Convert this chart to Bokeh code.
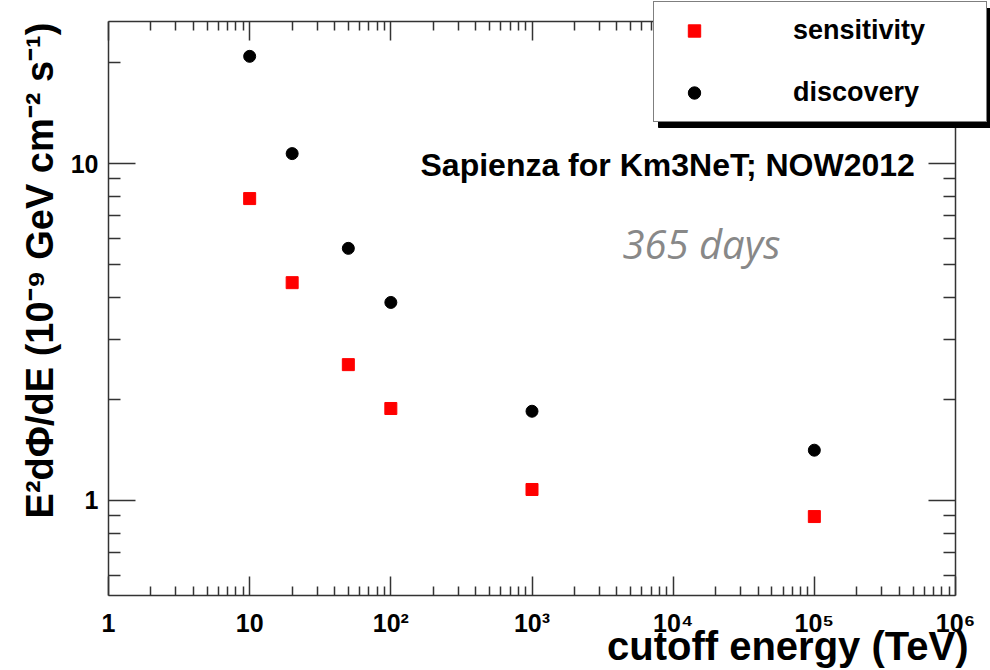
import math
from bokeh.plotting import figure
from bokeh.models import (LogAxis, FixedTicker, Label, Legend, LegendItem,
                          ColumnDataSource, BoxAnnotation)
from bokeh.embed import file_html
from bokeh.resources import INLINE

# ---- data ----
cutoff_energy_tev = [10, 20, 50, 100, 1000, 100000]
sensitivity = [7.87, 4.43, 2.53, 1.875, 1.078, 0.896]
discovery = [20.8, 10.7, 5.6, 3.87, 1.84, 1.41]

x_major_ticks = [1, 10, 100, 1000, 10000, 100000, 1000000]
x_tick_labels = ["1", "10", "10²", "10³", "10⁴", "10⁵", "10⁶"]
y_major_ticks = [1, 10]
y_tick_labels = ["1", "10"]
x_minor_ticks = [m * 10 ** k for k in range(0, 6) for m in range(2, 10)]
y_minor_ticks = [0.6, 0.7, 0.8, 0.9, 2, 3, 4, 5, 6, 7, 8, 9, 20]

x_axis_span = (1, 1e6)          # drawn extent of the x axis
y_axis_span = (0.5224, 26.39)   # drawn extent of the y axis

x_title = "cutoff energy (TeV)"
y_title = "E²dΦ/dE (10⁻⁹ GeV cm⁻² s⁻¹)"
credit_text = "Sapienza for Km3NeT; NOW2012"
exposure_text = "365 days"
series_names = ["sensitivity", "discovery"]

FONT = "Liberation Sans"
AXIS_COLOR = "#333333"
W, H = 990, 670

# pixel box of the drawn axes inside the canvas (left, right, top, bottom)
BOX_L, BOX_R, BOX_T, BOX_B = 108, 955, 21, 595

# extend the ranges so that the whole canvas is the data frame
lx0, lx1 = math.log10(x_axis_span[0]), math.log10(x_axis_span[1])
ppx = (BOX_R - BOX_L) / (lx1 - lx0)
ly0, ly1 = math.log10(y_axis_span[0]), math.log10(y_axis_span[1])
ppy = (BOX_B - BOX_T) / (ly1 - ly0)
x_range = (10 ** (lx0 - BOX_L / ppx), 10 ** (lx1 + (W - BOX_R) / ppx))
y_range = (10 ** (ly0 - (H - BOX_B) / ppy), 10 ** (ly1 + BOX_T / ppy))

p = figure(width=W, height=H, x_axis_type="log", y_axis_type="log",
           x_range=x_range, y_range=y_range,
           output_backend="svg", toolbar_location=None,
           min_border=0, min_border_left=0, min_border_right=0,
           min_border_top=0, min_border_bottom=0,
           background_fill_color="white", border_fill_color="white")
p.outline_line_color = None
p.grid.visible = False


def style_axis(ax, major_len, minor_len, show_labels):
    ax.axis_line_color = AXIS_COLOR
    ax.axis_line_width = 1.5
    ax.major_tick_line_color = AXIS_COLOR
    ax.major_tick_line_width = 1.5
    ax.minor_tick_line_color = AXIS_COLOR
    ax.minor_tick_line_width = 1.5
    ax.major_tick_in = major_len
    ax.major_tick_out = 0
    ax.minor_tick_in = minor_len
    ax.minor_tick_out = 0
    ax.major_label_text_font = FONT
    ax.major_label_text_font_style = "bold"
    ax.major_label_text_color = "black"
    if show_labels:
        ax.major_label_text_font_size = "25px"
    else:
        ax.major_label_text_font_size = "1px"
        ax.major_label_text_alpha = 0
        ax.major_label_standoff = 0


xb = p.xaxis[0]
xb.ticker = FixedTicker(ticks=x_major_ticks, minor_ticks=x_minor_ticks)
xb.major_label_overrides = dict(zip(x_major_ticks, x_tick_labels))
xb.major_label_standoff = 13
xb.fixed_location = y_axis_span[0]
xb.bounds = x_axis_span
style_axis(xb, 19, 9, True)

yl = p.yaxis[0]
yl.ticker = FixedTicker(ticks=y_major_ticks, minor_ticks=y_minor_ticks)
yl.major_label_overrides = dict(zip(y_major_ticks, y_tick_labels))
yl.major_label_standoff = 10
yl.fixed_location = x_axis_span[0]
yl.bounds = y_axis_span
style_axis(yl, 27, 12, True)

xa = LogAxis(ticker=FixedTicker(ticks=x_major_ticks, minor_ticks=x_minor_ticks),
             fixed_location=y_axis_span[1], bounds=x_axis_span)
style_axis(xa, 19, 9, False)
p.add_layout(xa, "above")

yr = LogAxis(ticker=FixedTicker(ticks=y_major_ticks, minor_ticks=y_minor_ticks),
             fixed_location=x_axis_span[1], bounds=y_axis_span)
style_axis(yr, 27, 12, False)
p.add_layout(yr, "right")

src = ColumnDataSource(dict(x=cutoff_energy_tev, sens=sensitivity, disc=discovery))
r_s = p.scatter("x", "sens", source=src, marker="square", size=12,
                fill_color="#ff0000", line_color="#ff0000")
r_d = p.scatter("x", "disc", source=src, marker="circle", size=12,
                fill_color="black", line_color="black")

# drop shadow of the legend box (screen px from the bottom-left corner)
p.add_layout(BoxAnnotation(left=658, right=W, bottom=H - 127, top=H - 8,
                           left_units="screen", right_units="screen",
                           bottom_units="screen", top_units="screen",
                           fill_color="black", fill_alpha=1.0,
                           line_color="black", line_alpha=1.0))

legend = Legend(items=[LegendItem(label=series_names[0], renderers=[r_s]),
                       LegendItem(label=series_names[1], renderers=[r_d])],
                location=(653, H - 122), orientation="vertical",
                padding=13, spacing=31, margin=0,
                glyph_width=54, glyph_height=31, label_standoff=72,
                label_width=180, label_height=31,
                label_text_font=FONT, label_text_font_style="bold",
                label_text_font_size="27px", label_text_color="black",
                border_line_color="black", border_line_width=1.5,
                background_fill_color="white", background_fill_alpha=1.0)
p.add_layout(legend)

p.add_layout(Label(x=420, y=H - 164, x_units="screen", y_units="screen",
                   text=credit_text, text_font=FONT, text_font_style="bold",
                   text_font_size="32px", text_color="black",
                   text_align="left", text_baseline="middle"))

p.add_layout(Label(x=622, y=H - 243, x_units="screen", y_units="screen",
                   text=exposure_text, text_font="Open Sans",
                   text_font_style="italic", text_font_size="40px",
                   text_color="#888888", text_align="left",
                   text_baseline="middle"))

p.add_layout(Label(x=39, y=H - 270, x_units="screen", y_units="screen",
                   angle=90, angle_units="deg",
                   text=y_title, text_font=FONT, text_font_style="bold",
                   text_font_size="38px", text_color="black",
                   text_align="center", text_baseline="middle"))

p.add_layout(Label(x=968, y=H - 645, x_units="screen", y_units="screen",
                   text=x_title, text_font=FONT, text_font_style="bold",
                   text_font_size="40px", text_color="black",
                   text_align="right", text_baseline="middle"))

open("out.html", "w").write(file_html(p, INLINE))
